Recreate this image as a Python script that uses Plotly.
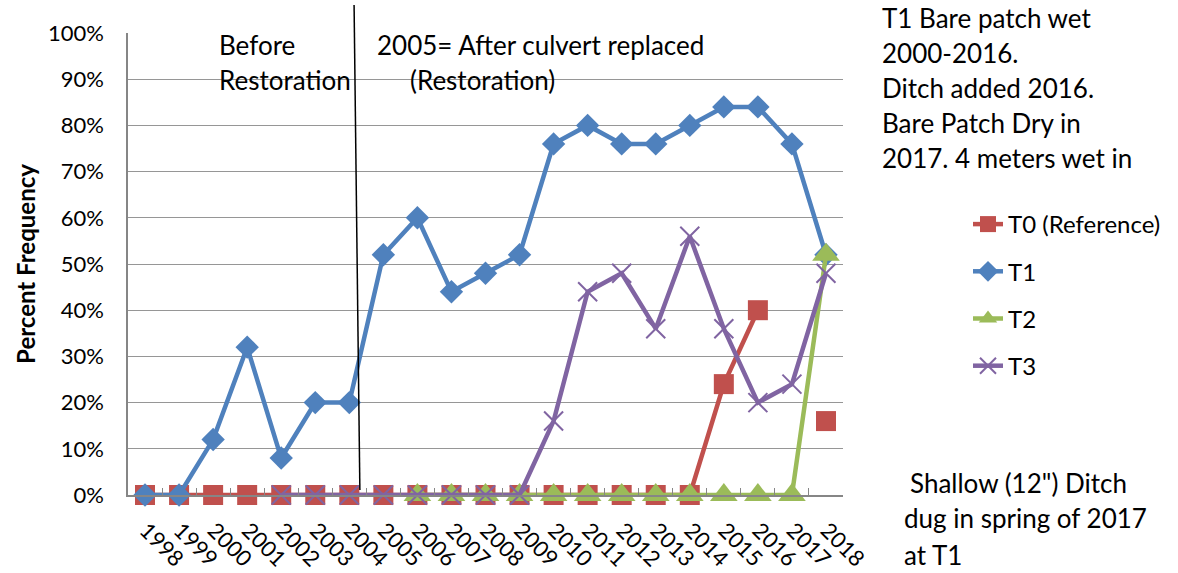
import plotly.graph_objects as go

years = [str(y) for y in range(1998, 2019)]
t0 = [0, 0, 0, 0, 0, 0, 0, 0, 0, 0, 0, 0, 0, 0, 0, 0, 0, 24, 40, None, 16]
t1 = [0, 0, 12, 32, 8, 20, 20, 52, 60, 44, 48, 52, 76, 80, 76, 76, 80, 84, 84, 76, 52]
t2 = [None]*8 + [0, 0, 0, 0, 0, 0, 0, 0, 0, 0, 0, 0, 52]
t3 = [None]*4 + [0, 0, 0, 0, 0, 0, 0, 0, 16, 44, 48, 36, 56, 36, 20, 24, 48]
names = ["T0 (Reference)", "T1", "T2", "T3"]

FONT = "Lato"
L, R, T, B = 128, 843, 33, 495
W, H = R - L, B - T

def fx(px):
    return (px - L) / W

def fy(py):
    return (B - py) / H

fig = go.Figure()
styles = [
    dict(color="#C0504D", symbol="square", size=20, lw=0),
    dict(color="#4F81BD", symbol="diamond", size=18, lw=0),
    dict(color="#9BBB59", symbol="triangle-up", size=24, lw=0),
    dict(color="#8064A2", symbol="x-thin-open", size=19, lw=2),
]
for i, (nm, vals) in enumerate(zip(names, [t0, t1, t2, t3])):
    s = styles[i]
    marker = dict(symbol=s["symbol"], size=s["size"], color=s["color"])
    if s["lw"]:
        marker["line"] = dict(color=s["color"], width=s["lw"])
    fig.add_trace(go.Scatter(
        x=years, y=vals, name=nm, mode="lines+markers",
        line=dict(color=s["color"], width=4.5),
        marker=marker, connectgaps=False, legendgroup=nm, cliponaxis=False,
    ))

shapes = [
    dict(type="rect", xref="paper", yref="paper", x0=fx(195), x1=fx(352), y0=fy(97), y1=fy(18),
         fillcolor="white", line=dict(width=0), layer="between"),
    dict(type="rect", xref="paper", yref="paper", x0=fx(358), x1=fx(758), y0=fy(97), y1=fy(18),
         fillcolor="white", line=dict(width=0), layer="between"),
    dict(type="line", xref="x", yref="paper", x0=6.14, x1=6.31, y0=fy(5), y1=fy(490),
         line=dict(color="black", width=1.5), layer="above"),
]

ann_specs = [
    ("Before", 217, 45),
    ("Restoration", 217, 80),
    ("2005= After culvert replaced", 375, 45),
    ("(Restoration)", 408, 80),
    ("T1 Bare patch wet", 880, 18),
    ("2000-2016.", 880, 53),
    ("Ditch added 2016.", 880, 88),
    ("Bare Patch Dry in", 880, 123),
    ("2017. 4 meters wet in", 880, 158),
    ("Shallow (12\") Ditch", 908, 483),
    ("dug in spring of 2017", 902, 518),
    ("at T1", 902, 555),
]
annotations = [
    dict(text=t, xref="paper", yref="paper", x=fx(px), y=fy(py), xanchor="left", yanchor="middle",
         showarrow=False, font=dict(family=FONT, size=26, color="black"))
    for t, px, py in ann_specs
]

fig.update_layout(
    width=1178, height=573,
    margin=dict(l=L, r=1178 - R, t=T, b=573 - B, autoexpand=False),
    paper_bgcolor="white", plot_bgcolor="white",
    font=dict(family=FONT, size=22, color="black"),
    showlegend=True,
    legend=dict(x=fx(968), y=fy(202), xanchor="left", yanchor="top",
                font=dict(family=FONT, size=24), tracegroupgap=13,
                traceorder="grouped", bgcolor="rgba(0,0,0,0)"),
    shapes=shapes, annotations=annotations,
)
fig.update_xaxes(
    type="category", range=[-0.5, 20.5], tickson="boundaries", ticks="inside", ticklen=7,
    tickcolor="#868686", showline=True, linecolor="#868686", linewidth=1.5, showgrid=False,
    tickangle=45, tickfont=dict(family=FONT, size=22), automargin=False,
    ticklabelshift=1, ticklabelstandoff=12,
)
fig.update_yaxes(
    range=[0, 100], dtick=10, ticksuffix="%", showline=True, linecolor="#868686", linewidth=1.5,
    showgrid=True, gridcolor="#969696", gridwidth=1.2, zeroline=False, ticks="",
    tickfont=dict(family=FONT, size=22), automargin=False, ticklabelstandoff=18,
    title=dict(text="<b>Percent Frequency</b>", font=dict(family=FONT, size=24), standoff=6),
)

fig.write_html("out.html", post_script="document.body.style.margin='0';",
               config={"displayModeBar": False})
